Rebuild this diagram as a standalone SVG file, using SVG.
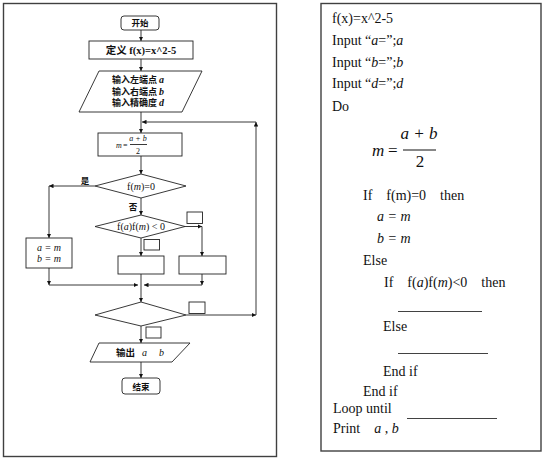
<svg xmlns="http://www.w3.org/2000/svg" width="542" height="459" viewBox="0 0 542 459">
<style>
.fr{fill:#fff;stroke:#404040;stroke-width:1.4}
.sh{fill:#fff;stroke:#222;stroke-width:0.9}
.ln{fill:none;stroke:#222;stroke-width:0.9}
.cb{font-family:"Noto Sans CJK SC","Noto Sans CJK JP",sans-serif;font-weight:bold;font-size:9.5px;fill:#111}
.ci{font-family:"Noto Sans CJK SC","Noto Sans CJK JP",sans-serif;font-weight:bold;font-size:9px;fill:#111}
.cs{font-family:"Noto Sans CJK SC","Noto Sans CJK JP",sans-serif;font-weight:bold;font-size:8.5px;fill:#111}
.fb{font-family:"Liberation Serif","Noto Sans CJK SC",serif;font-weight:bold;font-size:10.5px;fill:#111}
.it{font-family:"Liberation Serif",serif;font-style:italic;font-size:10px;fill:#111}
.sm{font-family:"Liberation Serif",serif;font-size:10px;fill:#111}
.it8{font-family:"Liberation Serif",serif;font-style:italic;font-size:8px;fill:#111}
.sm8{font-family:"Liberation Serif",serif;font-size:8px;fill:#111}
.t{font-family:"Liberation Serif",serif;font-size:14px;fill:#111}
.ti{font-family:"Liberation Serif",serif;font-style:italic;font-size:14px;fill:#111}
.eq{font-family:"Liberation Serif",serif;font-style:italic;font-size:17px;fill:#111}
.eqn{font-family:"Liberation Serif",serif;font-size:17px;fill:#111}
</style>
<defs>
<marker id="ah" viewBox="0 0 6 6" refX="6" refY="3" markerWidth="4.5" markerHeight="4.5" markerUnits="userSpaceOnUse" orient="auto">
<path d="M0,0 L6,3 L0,6 z" fill="#111"/>
</marker>
</defs>
<rect class="fr" x="3.5" y="3.5" width="273" height="453"/>
<rect class="fr" x="321" y="3.5" width="220" height="447.5"/>
<g id="connectors">
<line class="ln" x1="141" y1="30" x2="141" y2="41" marker-end="url(#ah)"/>
<line class="ln" x1="141" y1="59" x2="141" y2="71" marker-end="url(#ah)"/>
<line class="ln" x1="141" y1="112" x2="141" y2="133" marker-end="url(#ah)"/>
<line class="ln" x1="256" y1="315" x2="256" y2="122" marker-end="url(#ah)"/>
<line class="ln" x1="256" y1="122" x2="142" y2="122" marker-end="url(#ah)"/>
<line class="ln" x1="141" y1="156" x2="141" y2="174" marker-end="url(#ah)"/>
<line class="ln" x1="95" y1="186" x2="49" y2="186" marker-end="url(#ah)"/>
<line class="ln" x1="49" y1="186" x2="49" y2="238" marker-end="url(#ah)"/>
<line class="ln" x1="141" y1="198" x2="141" y2="215" marker-end="url(#ah)"/>
<line class="ln" x1="185" y1="226.5" x2="202" y2="226.5" marker-end="url(#ah)"/>
<line class="ln" x1="202" y1="226.5" x2="202" y2="256" marker-end="url(#ah)"/>
<line class="ln" x1="141" y1="238" x2="141" y2="256" marker-end="url(#ah)"/>
<line class="ln" x1="49" y1="268" x2="49" y2="285" marker-end="url(#ah)"/>
<line class="ln" x1="202" y1="274" x2="202" y2="285" marker-end="url(#ah)"/>
<line class="ln" x1="141" y1="274" x2="141" y2="285"/>
<line class="ln" x1="49" y1="285" x2="138" y2="285" marker-end="url(#ah)"/>
<line class="ln" x1="202" y1="285" x2="144" y2="285" marker-end="url(#ah)"/>
<line class="ln" x1="141" y1="285" x2="141" y2="302" marker-end="url(#ah)"/>
<line class="ln" x1="186" y1="315" x2="256" y2="315" marker-end="url(#ah)"/>
<line class="ln" x1="141" y1="326" x2="141" y2="343" marker-end="url(#ah)"/>
<line class="ln" x1="141" y1="362" x2="141" y2="378" marker-end="url(#ah)"/>
</g>
<g id="start">
<rect class="sh" x="121" y="16" width="38" height="14" rx="3"/>
<text class="cs" x="140" y="26" text-anchor="middle">开始</text>
</g>
<g id="define">
<rect class="sh" x="89" y="41" width="104" height="18"/>
<text class="fb" x="141" y="54" text-anchor="middle">定义  f(x)=x^2-5</text>
</g>
<g id="input">
<polygon class="sh" points="99,71 202,71 182,112 79,112"/>
<text class="ci" x="138" y="83" text-anchor="middle">输入左端点 <tspan class="it">a</tspan></text>
<text class="ci" x="138" y="94.5" text-anchor="middle">输入右端点 <tspan class="it">b</tspan></text>
<text class="ci" x="138" y="106" text-anchor="middle">输入精确度 <tspan class="it">d</tspan></text>
</g>
<g id="mid">
<rect class="sh" x="98" y="133" width="84" height="23"/>
<text class="it8" x="116" y="148">m</text>
<text class="sm8" x="123" y="148">=</text>
<text class="it8" x="138" y="141" text-anchor="middle">a + b</text>
<line class="ln" x1="130" y1="144.5" x2="147" y2="144.5" stroke-width="0.6"/>
<text class="sm8" x="138" y="153.5" text-anchor="middle">2</text>
</g>
<g id="d1">
<polygon class="sh" points="141,174 186,186 141,198 95,186"/>
<text class="sm" x="141" y="189.5" text-anchor="middle">f(<tspan class="it">m</tspan>)=0</text>
<text class="cs" x="85" y="183.5" text-anchor="middle">是</text>
<text class="cs" x="133" y="210" text-anchor="middle">否</text>
</g>
<g id="assign">
<rect class="sh" x="26" y="238" width="46" height="30"/>
<text class="it" x="49" y="251" text-anchor="middle">a = m</text>
<text class="it" x="49" y="262" text-anchor="middle">b = m</text>
</g>
<g id="d2">
<polygon class="sh" points="141,215 185,226.5 141,238 95,226.5"/>
<text class="sm" x="141" y="230" text-anchor="middle">f(<tspan class="it">a</tspan>)f(<tspan class="it">m</tspan>) &lt;  0</text>
<rect class="sh" x="187" y="212" width="15.5" height="11.5"/>
<rect class="sh" x="144" y="239.5" width="15.5" height="10.5"/>
</g>
<g id="boxL">
<rect class="sh" x="118" y="256" width="46" height="18"/>
</g>
<g id="boxR">
<rect class="sh" x="179" y="256" width="47" height="18"/>
</g>
<g id="d3">
<polygon class="sh" points="141,302 186,315 141,326 95,315"/>
<rect class="sh" x="189" y="302" width="16" height="11.5"/>
<rect class="sh" x="146" y="327" width="15" height="11"/>
</g>
<g id="output">
<polygon class="sh" points="99,343 190,343 172,362 90,362"/>
<text class="cb" x="116" y="356">输出</text>
<text class="it" x="142" y="356">a</text>
<text class="it" x="159" y="356">b</text>
</g>
<g id="end">
<rect class="sh" x="122" y="378" width="38" height="16" rx="3"/>
<text class="cs" x="141" y="389.5" text-anchor="middle">结束</text>
</g>
<g id="code">
<text class="t" x="332" y="23">f(x)=x^2-5</text>
<text class="t" x="332" y="45">Input “<tspan class="ti">a</tspan>=”;<tspan class="ti">a</tspan></text>
<text class="t" x="332" y="67">Input “<tspan class="ti">b</tspan>=”;<tspan class="ti">b</tspan></text>
<text class="t" x="332" y="88">Input “<tspan class="ti">d</tspan>=”;<tspan class="ti">d</tspan></text>
<text class="t" x="332" y="111">Do</text>
<text class="eq" x="372" y="156">m</text>
<text class="eqn" x="388" y="156">=</text>
<text class="eq" x="419" y="139" text-anchor="middle">a + b</text>
<line x1="403" y1="150" x2="436" y2="150" stroke="#111" stroke-width="1"/>
<text class="eqn" x="420" y="167" text-anchor="middle">2</text>
<text class="t" x="363" y="200" xml:space="preserve">If    f(m)=0    then</text>
<text class="ti" x="377" y="221">a = m</text>
<text class="ti" x="377" y="243">b = m</text>
<text class="t" x="363" y="265">Else</text>
<text class="t" x="384" y="287" xml:space="preserve">If    f(<tspan class="ti">a</tspan>)f(<tspan class="ti">m</tspan>)&lt;0    then</text>
<line x1="398" y1="311.5" x2="482" y2="311.5" stroke="#111" stroke-width="0.8"/>
<text class="t" x="383" y="331">Else</text>
<line x1="398" y1="353.5" x2="488" y2="353.5" stroke="#111" stroke-width="0.8"/>
<text class="t" x="383" y="376">End if</text>
<text class="t" x="363" y="396">End if</text>
<text class="t" x="333" y="413">Loop until</text>
<line x1="407" y1="418.5" x2="497" y2="418.5" stroke="#111" stroke-width="0.8"/>
<text class="t" x="333" y="433" xml:space="preserve">Print    <tspan class="ti">a</tspan> , <tspan class="ti">b</tspan></text>
</g>
</svg>
